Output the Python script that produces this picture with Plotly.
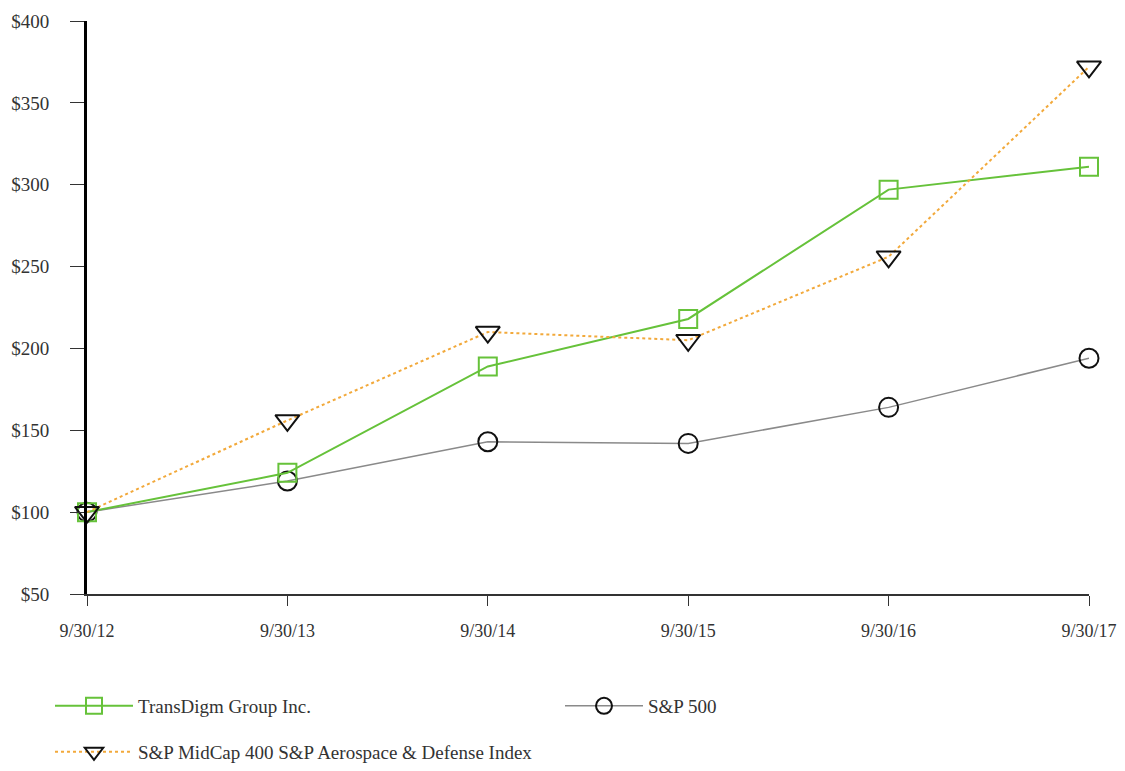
import plotly.graph_objects as go

dates = ["9/30/12", "9/30/13", "9/30/14", "9/30/15", "9/30/16", "9/30/17"]
transdigm = [100, 124, 189, 218, 297, 311]
sp500 = [100, 119, 143, 142, 164, 194]
aero = [100, 156, 210, 205, 256, 372]
y_ticks = [50, 100, 150, 200, 250, 300, 350, 400]
y_labels = ["$" + str(v) for v in y_ticks]

xs = list(range(len(dates)))
font_fam = "Liberation Serif, Times New Roman, serif"
W, H = 1109, 755

fig = go.Figure()
fig.add_trace(go.Scatter(
    x=xs, y=sp500, name="S&P 500", mode="lines+markers", cliponaxis=False,
    line=dict(color="#8a8a8a", width=1.5),
    marker=dict(symbol="circle-open", size=19, color="#111111", line=dict(width=2)),
    legend="legend2"))
fig.add_trace(go.Scatter(
    x=xs, y=transdigm, name="TransDigm Group Inc.", mode="lines+markers", cliponaxis=False,
    line=dict(color="#66c23a", width=2),
    marker=dict(symbol="square-open", size=18, color="#66c23a", line=dict(width=2)),
    legend="legend"))
fig.add_trace(go.Scatter(
    x=xs, y=aero, name="S&P MidCap 400 S&P Aerospace & Defense Index", mode="lines+markers",
    cliponaxis=False,
    line=dict(color="#f2a93b", width=2, dash="dot"),
    marker=dict(symbol="triangle-down-open", size=21, color="#111111", line=dict(width=2)),
    legend="legend3"))

leg_font = dict(family=font_fam, size=19, color="#333333")
common = dict(orientation="h", xref="container", yref="container", xanchor="left",
              yanchor="middle", font=leg_font, itemwidth=78, bgcolor="rgba(0,0,0,0)")

fig.update_layout(
    width=W, height=H,
    paper_bgcolor="white", plot_bgcolor="white",
    margin=dict(l=79, r=28, t=13, b=169),
    font=dict(family=font_fam, size=18, color="#333333"),
    legend=dict(x=42 / W, y=1 - 698 / H, **common),
    legend2=dict(x=552 / W, y=1 - 698 / H, **common),
    legend3=dict(x=42 / W, y=1 - 744 / H, **common),
    showlegend=True,
)

fig.update_xaxes(
    tickmode="array", tickvals=xs, ticktext=dates, range=[0, 5], automargin=False,
    showgrid=False, zeroline=False, showline=True, linecolor="#333333", linewidth=2,
    ticks="outside", ticklen=10, tickcolor="#333333", tickwidth=1,
    ticklabelstandoff=9, tickfont=dict(family=font_fam, size=18, color="#333333"))
fig.update_yaxes(
    tickmode="array", tickvals=y_ticks, ticktext=y_labels, range=[50, 400], automargin=False,
    showgrid=False, zeroline=False, showline=True, linecolor="#000000", linewidth=3,
    ticks="outside", ticklen=14, tickcolor="#333333", tickwidth=1,
    ticklabelstandoff=17, tickfont=dict(family=font_fam, size=19, color="#333333"))

fig.write_html("out.html")
